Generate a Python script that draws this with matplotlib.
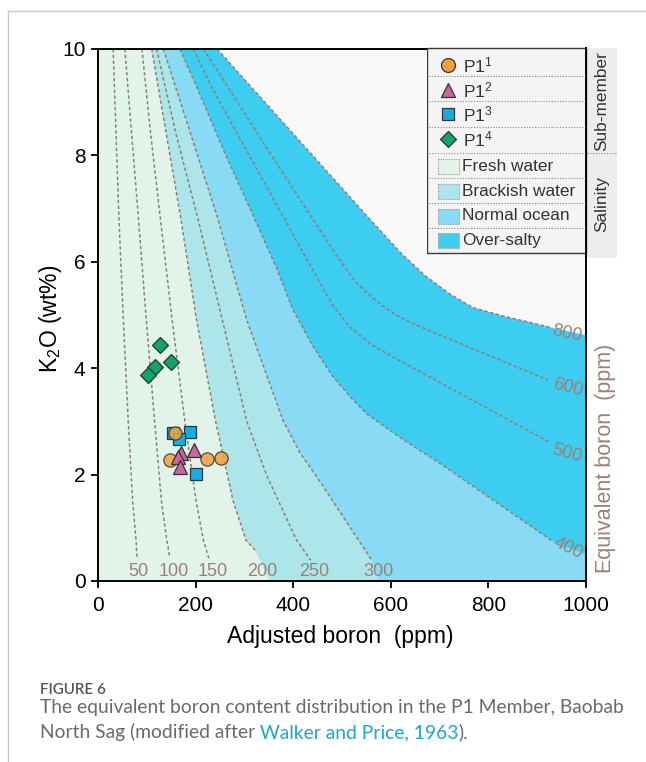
import matplotlib
matplotlib.use('Agg')
import matplotlib.pyplot as plt
from matplotlib.patches import Rectangle
from matplotlib.lines import Line2D

plt.rcParams['font.family'] = ['Liberation Sans', 'DejaVu Sans']
plt.rcParams['mathtext.default'] = 'regular'

# equivalent boron lines (ppm): adjusted boron (x) against K2O (y)
b50_x = [31, 37, 43, 52, 62, 71, 78, 80]
b50_y = [10, 8.4, 6.8, 4.9, 3.0, 1.5, 0.77, 0.43]
b100_x = [55, 69, 83, 99, 116, 130, 141, 147]
b100_y = [10, 8.4, 6.8, 4.9, 3.0, 1.5, 0.77, 0.45]
b150_x = [90, 108, 128, 152, 178, 201, 216, 227]
b150_y = [10, 8.4, 6.8, 4.9, 3.0, 1.5, 0.77, 0.43]
b200_x = [110, 140, 170, 202, 241, 277, 303, 322]
b200_y = [10, 8.4, 6.8, 4.9, 3.0, 1.5, 0.77, 0.58]
b250_x = [120, 160, 205, 255, 305, 345, 380, 407, 436]
b250_y = [10, 8.4, 6.8, 4.9, 3.0, 2.0, 1.3, 0.77, 0.39]
b300_x = [134, 190, 246, 305, 380, 414, 460, 510, 561]
b300_y = [10, 8.4, 6.8, 4.9, 3.0, 2.41, 1.8, 1.1, 0.39]
b400_x = [168, 205, 262, 322, 365, 400, 440, 480, 518, 551, 625, 701, 933]
b400_y = [10, 9.23, 8.0, 6.79, 5.9, 5.09, 4.42, 3.86, 3.45, 3.14, 2.66, 2.21, 0.74]
b500_x = [195, 236, 310, 383, 440, 480, 515, 560, 610, 667, 923]
b500_y = [10, 9.23, 8.0, 6.79, 5.85, 5.2, 4.78, 4.45, 4.18, 3.9, 2.62]
b600_x = [216, 270, 340, 441, 490, 530, 565, 600, 640, 670, 922]
b600_y = [10, 9.23, 8.22, 6.79, 6.1, 5.6, 5.3, 5.06, 4.86, 4.74, 3.78]
b800_x = [244, 420, 560, 620, 670, 720, 768, 830, 885, 930]
b800_y = [10, 8.2, 6.77, 6.17, 5.74, 5.4, 5.14, 4.98, 4.86, 4.76]

# where the salinity boundaries run on past the dashed lines
b200_end = (352, 0)
b300_end = (575, 0)
b400_end = (1000, 0.5)
b800_end = (1000, 4.62)

# samples per sub-member
p1_1_x = [158, 148, 223, 252]
p1_1_y = [2.78, 2.27, 2.29, 2.32]
p1_2_x = [170, 197, 163, 168]
p1_2_y = [2.40, 2.46, 2.34, 2.15]
p1_3_x = [154, 189, 167, 201]
p1_3_y = [2.78, 2.80, 2.67, 2.01]
p1_4_x = [127, 150, 117, 103]
p1_4_y = [4.44, 4.12, 4.02, 3.87]

c_fresh = '#e2f4ea'
c_brack = '#ace6ea'
c_ocean = '#88daf5'
c_salty = '#3dcdf1'
c_line = '#8f7f78'
c_lab = '#9a8178'

fig = plt.figure(figsize=(6.46, 7.62), dpi=100)
W, H = 646.0, 762.0
ax = fig.add_axes([98 / W, 1 - 581 / H, 488 / W, 532 / H])
ax.set_facecolor('#f8f8f8')

# salinity fields, painted from the saltiest inwards
ax.fill(b800_x + [b800_end[0], 1000, 0, 0], b800_y + [b800_end[1], 0, 0, 10], color=c_salty, lw=0)
ax.fill(b400_x + [b400_end[0], 1000, 0, 0], b400_y + [b400_end[1], 0, 0, 10], color=c_ocean, lw=0)
ax.fill(b300_x + [b300_end[0], 0, 0], b300_y + [b300_end[1], 0, 10], color=c_brack, lw=0)
ax.fill(b200_x + [b200_end[0], 0, 0], b200_y + [b200_end[1], 0, 10], color=c_fresh, lw=0)

dash = (0, (2.2, 1.6))
for xs, ys in [(b50_x, b50_y), (b100_x, b100_y), (b150_x, b150_y), (b200_x, b200_y),
               (b250_x, b250_y), (b300_x, b300_y), (b400_x, b400_y), (b500_x, b500_y),
               (b600_x, b600_y), (b800_x, b800_y)]:
    ax.plot(xs, ys, color=c_line, lw=1.1, ls=dash)

# value labels of the lines
for s, x in [('50', 82), ('100', 156), ('150', 236), ('200', 336), ('250', 443), ('300', 574)]:
    ax.text(x, 0.17, s, color=c_lab, fontsize=13, ha='center', va='center')
for s, x, y, r in [('800', 961, 4.64, -12), ('600', 963, 3.63, -15),
                   ('500', 961, 2.39, -15), ('400', 963, 0.62, -25)]:
    ax.text(x, y, s, color=c_lab, fontsize=13, ha='center', va='center', rotation=r)

mk = dict(ls='none', mec='#333333', mew=0.9)
ax.plot(p1_3_x, p1_3_y, marker='s', ms=9, mfc='#12aee8', **mk)
ax.plot(p1_1_x, p1_1_y, marker='o', ms=9.5, mfc='#f5a03c', alpha=0.85, **mk)
ax.plot(p1_2_x, p1_2_y, marker='^', ms=10, mfc='#c9679a', **mk)
ax.plot(p1_4_x, p1_4_y, marker='D', ms=8.5, mfc='#0fa468', **mk)

ax.set_xlim(0, 1000)
ax.set_ylim(0, 10)
ax.set_xticks(range(0, 1001, 200))
ax.set_yticks(range(0, 11, 2))
ax.tick_params(direction='out', length=5, width=1.3, labelsize=15, pad=4, color='black')
ax.tick_params(axis='x', pad=6)
for sp in ax.spines.values():
    sp.set_linewidth(1.4)

fig.text(340 / W, 1 - 636 / H, 'Adjusted boron  (ppm)', fontsize=16.5, ha='center', va='center')
fig.text(50 / W, 1 - 319 / H, 'K$_2$O (wt%)', fontsize=16.5, ha='center', va='center', rotation=90)
fig.text(606 / W, 1 - 458 / H, 'Equivalent boron  (ppm)', fontsize=15.5, color=c_lab,
         ha='center', va='center', rotation=90)

# legend panel, drawn in pixel units
leg = fig.add_axes([427 / W, 1 - 258 / H, 191 / W, 211 / H])
leg.set_xlim(427, 618)
leg.set_ylim(258, 47)
leg.axis('off')
leg.add_patch(Rectangle((586, 48), 31, 210, fc='#ededed', ec='none'))
leg.add_patch(Rectangle((427, 48), 159, 205, fc='#f4f4f4', ec='#3a3a3a', lw=1))
leg.plot([586, 586], [47, 258], color='black', lw=1.4)
for y in [76, 101, 127, 153, 178, 203, 228]:
    leg.plot([429, 585], [y, y], color='#888888', lw=0.8, ls=(0, (1, 1.5)))
leg.plot([587, 617], [153, 153], color='#888888', lw=0.8, ls=(0, (1, 1.5)))

rows = [65, 90, 114, 139]
for y, m, c, s, n in zip(rows, ['o', '^', 's', 'D'], ['#f5a03c', '#c9679a', '#12aee8', '#0fa468'],
                         [10, 10, 9, 8], ['1', '2', '3', '4']):
    leg.plot(448, y, marker=m, ms=s, mfc=c, mec='#333333', mew=0.9)
    leg.text(463, y, 'P1$^{%s}$' % n, fontsize=12.5, va='center', color='#333333')

for y, c, s in zip([166, 191, 216, 240], [c_fresh, c_brack, c_ocean, c_salty],
                   ['Fresh water', 'Brackish water', 'Normal ocean', 'Over-salty']):
    leg.add_patch(Rectangle((438, y - 7.5), 21, 15, fc=c, ec='#999999', lw=0.8, ls=(0, (1, 1))))
    leg.text(462, y, s, fontsize=12.4, va='center', color='#333333')

leg.text(602, 101, 'Sub-member', fontsize=12.4, rotation=90, ha='center', va='center', color='#333333')
leg.text(602, 204, 'Salinity', fontsize=12.4, rotation=90, ha='center', va='center', color='#333333')

# page frame and caption
fig.add_artist(Line2D([8 / W, 8 / W], [0, 1 - 11 / H], color='#c8c8c8', lw=1))
fig.add_artist(Line2D([8 / W, 1], [1 - 11 / H, 1 - 11 / H], color='#c8c8c8', lw=1))

cap = dict(family=['Lato', 'DejaVu Sans'], fontsize=13.85, color='#6a6a6a')
fig.text(40 / W, 1 - 690 / H, 'FIGURE 6', family=['Lato', 'DejaVu Sans'], fontsize=11,
         color='#555555', weight='semibold', va='center')
fig.text(40 / W, 1 - 708 / H, 'The equivalent boron content distribution in the P1 Member, Baobab',
         va='center', **cap)
t0 = fig.text(40 / W, 1 - 732 / H, 'North Sag (modified after', va='center', **cap)
a1 = ax.annotate(' Walker and Price, 1963', xy=(1, 0), xycoords=t0, va='bottom',
                 annotation_clip=False, **dict(cap, color='#1ea6c4'))
ax.annotate(').', xy=(1, 0), xycoords=a1, va='bottom', annotation_clip=False, **cap)

fig.savefig('out.png', dpi=100)
